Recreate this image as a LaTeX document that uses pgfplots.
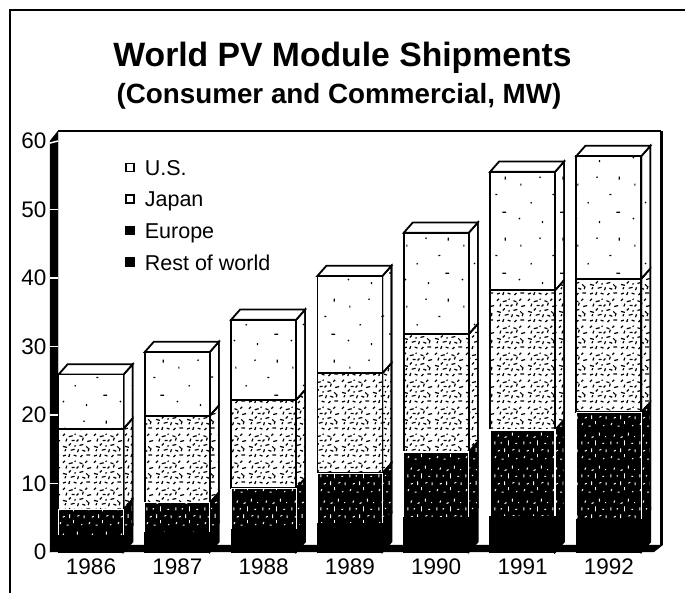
\documentclass[border=0pt]{standalone}
\usepackage{pgfplots}
\pgfplotsset{compat=1.18}
\usepackage{pgfplotstable}
\usepackage{fontspec}
\usetikzlibrary{patterns}
\setmainfont{Liberation Sans}
\newcommand\spk[4]{\pgfpathmoveto{\pgfqpoint{#1pt}{#2pt}}\pgfpathlineto{\pgfqpoint{\dimexpr#1pt+#3pt\relax}{\dimexpr#2pt+#4pt\relax}}}
\pgfdeclarepatternformonly{speckA}{\pgfqpoint{0pt}{0pt}}{\pgfqpoint{31pt}{27pt}}{\pgfqpoint{31pt}{27pt}}{%
  \pgfsetlinewidth{1.25pt}%
  \spk{1}{2}{3}{1}\spk{7}{1}{1}{3}\spk{12}{3}{3}{-1}\spk{19}{1}{2}{2}\spk{25}{3}{4}{0}%
  \spk{3}{7}{1}{2}\spk{9}{8}{4}{1}\spk{16}{6}{1}{3}\spk{21}{8}{3}{-1}\spk{27}{7}{1}{3}%
  \spk{1}{12}{4}{-1}\spk{7}{13}{2}{2}\spk{13}{12}{1}{1}\spk{18}{13}{4}{1}\spk{25}{12}{2}{-2}%
  \spk{4}{17}{1}{3}\spk{10}{18}{3}{0}\spk{15}{17}{2}{2}\spk{21}{18}{1}{3}\spk{26}{17}{4}{1}%
  \spk{1}{23}{2}{2}\spk{7}{22}{4}{1}\spk{13}{24}{1}{1}\spk{18}{23}{3}{-1}\spk{24}{23}{2}{2}%
  \pgfusepath{stroke}}
\pgfdeclarepatternformonly{speckB}{\pgfqpoint{0pt}{0pt}}{\pgfqpoint{29pt}{33pt}}{\pgfqpoint{29pt}{33pt}}{%
  \pgfsetlinewidth{1pt}%
  \spk{2}{3}{1}{2}\spk{9}{2}{2}{0}\spk{16}{4}{0}{3}\spk{24}{2}{1}{1}%
  \spk{5}{10}{2}{1}\spk{12}{9}{0}{4}\spk{20}{11}{2}{1}\spk{27}{9}{0}{3}%
  \spk{2}{17}{0}{3}\spk{8}{18}{1}{1}\spk{16}{16}{0}{5}\spk{23}{18}{2}{0}%
  \spk{5}{25}{1}{2}\spk{12}{24}{2}{1}\spk{20}{26}{0}{3}\spk{26}{25}{1}{0}%
  \pgfusepath{stroke}}
\pgfdeclarepatternformonly{speckC}{\pgfqpoint{0pt}{0pt}}{\pgfqpoint{57pt}{61pt}}{\pgfqpoint{57pt}{61pt}}{%
  \pgfsetlinewidth{1.2pt}%
  \spk{6}{8}{1}{1}\spk{30}{4}{0}{2}\spk{47}{15}{4}{0}\spk{18}{24}{1}{1}%
  \spk{40}{33}{2}{0}\spk{8}{42}{0}{2}\spk{27}{50}{1}{1}\spk{50}{48}{0}{3}%
  \pgfusepath{stroke}}
\pgfplotsset{
  usf/.style={preaction={fill=white},pattern=speckC,pattern color=black},
  jpf/.style={preaction={fill=white},pattern=speckA,pattern color=black},
  euf/.style={preaction={fill=black},pattern=speckB,pattern color=white},
  rof/.style={fill=black}}
% Segment heights, MW
\pgfplotstableread{
k year rest europe japan us
0 1986 2.4 3.8 11.8 7.9
1 1987 2.8 4.4 12.7 9.3
2 1988 3.2 6.1 12.9 11.7
3 1989 4.2 7.3 14.6 14.2
4 1990 5.0 9.6 17.2 14.8
5 1991 5.2 12.6 20.4 17.3
6 1992 4.7 15.7 19.5 17.9
}\shipments
\newcommand\sideface[4]{%
  \pgfmathsetmacro\xa{#1+0.3766}\pgfmathsetmacro\xb{\xa+0.105}%
  \pgfmathsetmacro\yb{#2+1.5}\pgfmathsetmacro\yc{#3+1.5}%
  \addplot[#4,draw=black,line width=1.6pt] coordinates {(\xa,#2)(\xb,\yb)(\xb,\yc)(\xa,#3)} --cycle;}
\newcommand\topface[2]{%
  \pgfmathsetmacro\xa{#1-0.3766}\pgfmathsetmacro\xb{#1+0.3766}%
  \pgfmathsetmacro\xc{\xb+0.105}\pgfmathsetmacro\xd{\xa+0.105}\pgfmathsetmacro\yb{#2+1.5}%
  \addplot[fill=white,draw=black,line width=1.8pt] coordinates {(\xa,#2)(\xb,#2)(\xc,\yb)(\xd,\yb)} --cycle;}
\newcommand\column[5]{%
  \sideface{#1}{0}{#2}{rof}\sideface{#1}{#2}{#3}{euf}\sideface{#1}{#3}{#4}{jpf}\sideface{#1}{#4}{#5}{usf}\topface{#1}{#5}}
\pgfplotsset{common/.style={
  scale only axis,width=602pt,height=411pt,at={(50pt,41pt)},anchor=south west,
  xmin=-0.475,xmax=6.5,ymin=0,ymax=60,clip=false}}
\begin{document}
\begin{tikzpicture}[x=1pt,y=1pt]
\path[use as bounding box] (0,0) rectangle (685,593);
\draw[line width=1.8pt,black] (10,0) -- (10,583) -- (685,583);
\node[font=\bfseries\fontsize{33.7}{36}\selectfont,anchor=center] at (342.5,535) {World PV Module Shipments};
\node[font=\bfseries\fontsize{27.8}{30}\selectfont,anchor=center] at (339,497) {(Consumer and Commercial, MW)};
\begin{axis}[common,hide axis]
% wall and floor
\addplot[fill=black,draw=black] coordinates {(-0.475,0)(-0.382,1)(-0.382,61.46)(-0.475,60)} --cycle;
\addplot[draw=black,line width=2pt] coordinates {(-0.382,61.46)(6.605,61.46)};
\addplot[draw=black,line width=3pt] coordinates {(6.605,61.46)(6.605,1)};
\addplot[fill=black,draw=black] coordinates {(-0.475,0)(6.52,0)(6.62,1)(-0.382,1)} --cycle;
\addplot[draw=white,line width=1.5pt] coordinates {(-0.475,10)(-0.382,10)};
\addplot[draw=white,line width=1.5pt] coordinates {(-0.475,20)(-0.382,20)};
\addplot[draw=white,line width=1.5pt] coordinates {(-0.475,30)(-0.382,30)};
\addplot[draw=white,line width=1.5pt] coordinates {(-0.475,40)(-0.382,40)};
\addplot[draw=white,line width=1.5pt] coordinates {(-0.475,50)(-0.382,50)};
\addplot[draw=white,line width=1.5pt] coordinates {(-0.475,59.7)(-0.382,60)};
% side and top faces: cumulative heights
\column{0}{2.4}{6.2}{18.0}{25.9}
\column{1}{2.8}{7.2}{19.9}{29.2}
\column{2}{3.2}{9.3}{22.2}{33.9}
\column{3}{4.2}{11.5}{26.1}{40.3}
\column{4}{5.0}{14.6}{31.8}{46.6}
\column{5}{5.2}{17.8}{38.2}{55.5}
\column{6}{4.7}{20.4}{39.9}{57.8}
\end{axis}
\begin{axis}[common,ybar stacked,bar width=65pt,
  axis line style={draw=none},major tick length=0pt,
  xtick={0,...,6},xticklabels={1986,1987,1988,1989,1990,1991,1992},
  ytick={0,10,...,60},
  /pgf/number format/assume math mode=true,
  tick label style={font=\fontsize{22.5}{24}\selectfont},
  xticklabel style={yshift=-3pt},
  legend style={at={(0.125,0.958)},anchor=north west,draw=none,fill=none,
    row sep=11pt,font=\fontsize{21.5}{24}\selectfont,inner sep=0pt},
  legend cell align=left,
  legend image code/.code={\draw[#1,line width=1.4pt,draw=black] (0pt,-3pt) rectangle (8pt,5pt);}
]
\addplot[rof,draw=black,line width=1.2pt,forget plot] table[x=k,y=rest] {\shipments};
\addplot[euf,draw=white,line width=1.2pt,forget plot] table[x=k,y=europe] {\shipments};
\addplot[jpf,draw=black,line width=1.8pt,forget plot] table[x=k,y=japan] {\shipments};
\addplot[usf,draw=black,line width=1.8pt,forget plot] table[x=k,y=us] {\shipments};
\addlegendimage{fill=white}\addlegendentry{\hspace*{8pt}U.S.}
\addlegendimage{fill=white}\addlegendentry{\hspace*{8pt}Japan}
\addlegendimage{fill=black}\addlegendentry{\hspace*{8pt}Europe}
\addlegendimage{fill=black}\addlegendentry{\hspace*{8pt}Rest of world}
\end{axis}
\end{tikzpicture}
\end{document}
